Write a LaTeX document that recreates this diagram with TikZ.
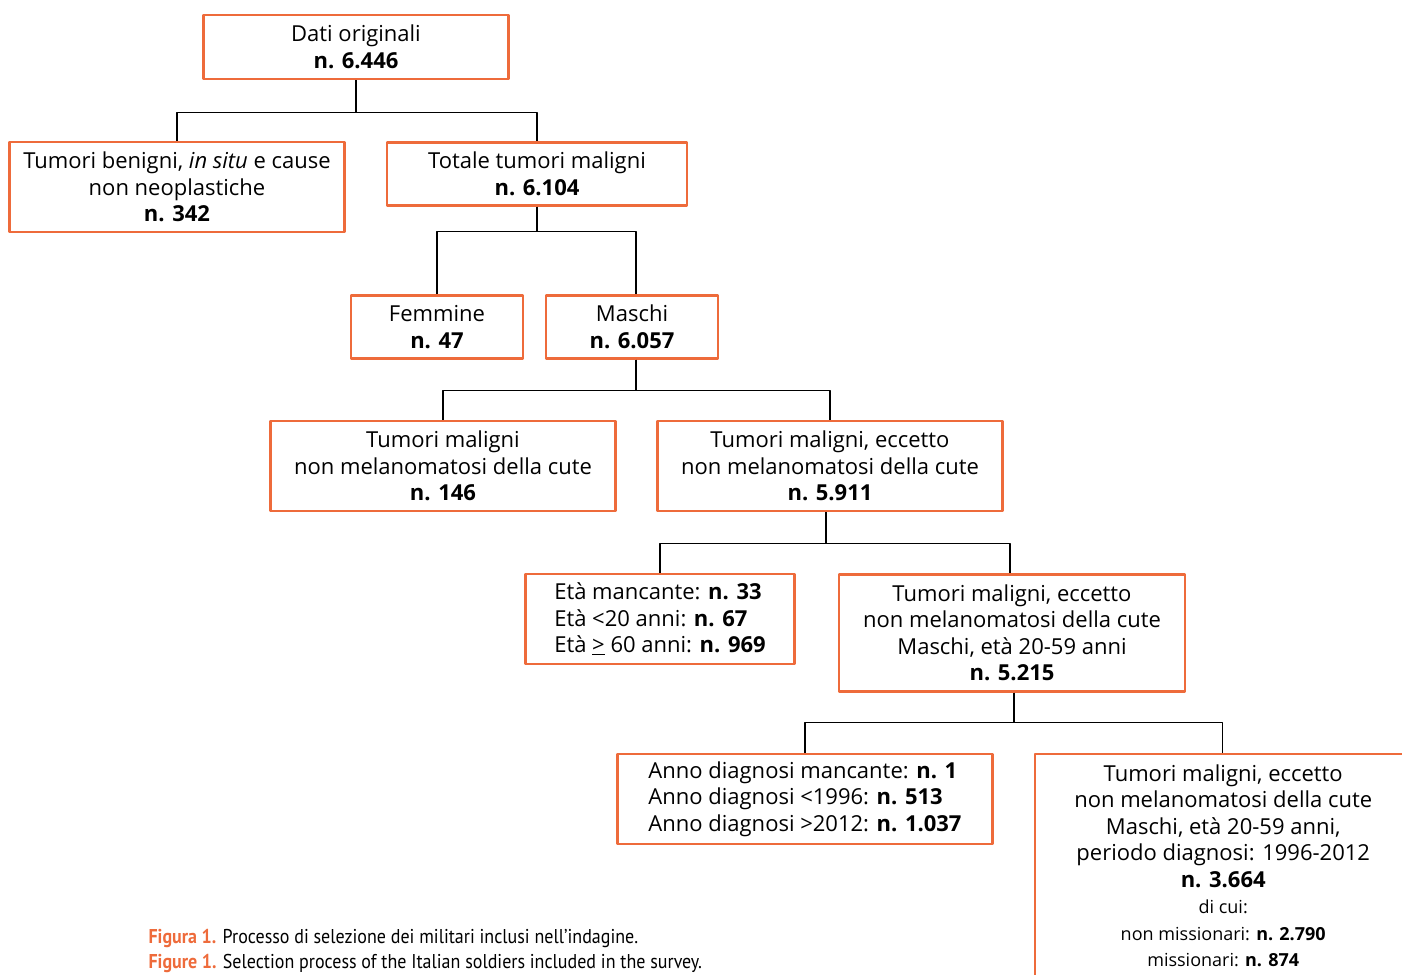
\documentclass[tikz,border=0pt]{standalone}
\usepackage{fontspec}
\setmainfont{Open Sans}
\newfontfamily\capfont[FakeStretch=0.9]{PT Sans}
\definecolor{arancio}{HTML}{EE6B3B}
\tikzset{
  box/.style={draw=arancio, line width=2.4pt, align=center, inner sep=0pt,
    font=\fontsize{22}{26.5}\selectfont},
  link/.style={draw=black, line width=1.1pt},
}
\begin{document}
\begin{tikzpicture}[x=1pt, y=-1pt, line join=round]
\useasboundingbox (0,0) rectangle (1402,974);
\clip (0,0) rectangle (1402,974);
% caselle
\node[box, minimum width=305pt, minimum height=64pt] (dati) at (356,47)
  {Dati originali\\\textbf{n. 6.446}};
\node[box, minimum width=335pt, minimum height=90pt] (benigni) at (177,187)
  {Tumori benigni, \emph{in situ} e cause\\non neoplastiche\\\textbf{n. 342}};
\node[box, minimum width=300pt, minimum height=63pt] (totale) at (537,174)
  {Totale tumori maligni\\\textbf{n. 6.104}};
\node[box, minimum width=172pt, minimum height=63pt] (femmine) at (437,327)
  {Femmine\\\textbf{n. 47}};
\node[box, minimum width=172pt, minimum height=63pt] (maschi) at (632,327)
  {Maschi\\\textbf{n. 6.057}};
\node[box, minimum width=345pt, minimum height=90pt] (cute) at (443,466)
  {Tumori maligni\\non melanomatosi della cute\\\textbf{n. 146}};
\node[box, minimum width=345pt, minimum height=90pt] (eccetto) at (830,466)
  {Tumori maligni, eccetto\\non melanomatosi della cute\\\textbf{n. 5.911}};
\node[box, align=left, minimum width=269pt, minimum height=90pt] (eta) at (660,619)
  {Età mancante: \textbf{n. 33}\\Età <20 anni: \textbf{n. 67}\\Età \underline{>} 60 anni: \textbf{n. 969}};
\node[box, minimum width=346pt, minimum height=117pt] (maschieta) at (1012,633)
  {Tumori maligni, eccetto\\non melanomatosi della cute\\Maschi, età 20-59 anni\\\textbf{n. 5.215}};
\node[box, align=left, minimum width=375pt, minimum height=90pt] (anno) at (805,799)
  {Anno diagnosi mancante: \textbf{n. 1}\\Anno diagnosi <1996: \textbf{n. 513}\\Anno diagnosi >2012: \textbf{n. 1.037}};
\node[box, anchor=north west, minimum width=376pt, minimum height=260pt] (finale)
  at (1034,753) {};
\node[align=center, font=\fontsize{22}{26.5}\selectfont, anchor=north] (finaletesto)
  at ([yshift=-8pt]finale.north)
  {Tumori maligni, eccetto\\non melanomatosi della cute\\Maschi, età 20-59 anni,\\
   periodo diagnosi: 1996-2012\\\textbf{n. 3.664}\\
   {\fontsize{18}{26.5}\selectfont di cui:}\\
   {\fontsize{18}{26.5}\selectfont non missionari: \textbf{n. 2.790}}\\
   {\fontsize{18}{26.5}\selectfont missionari: \textbf{n. 874}}};
% collegamenti
\draw[link] (dati.south) -- ++(0,32) -| (benigni.north);
\draw[link] (dati.south) -- ++(0,32) -| (totale.north);
\draw[link] (totale.south) -- ++(0,25) -| (femmine.north);
\draw[link] (totale.south) -- ++(0,25) -| ([xshift=4pt]maschi.north);
\draw[link] ([xshift=4pt]maschi.south) -- ++(0,31) -| (cute.north);
\draw[link] ([xshift=4pt]maschi.south) -- ++(0,31) -| (eccetto.north);
\draw[link] ([xshift=-4pt]eccetto.south) -- ++(0,31) -| (eta.north);
\draw[link] ([xshift=-4pt]eccetto.south) -- ++(0,31) -| ([xshift=-2pt]maschieta.north);
\draw[link] ([xshift=2pt]maschieta.south) -- ++(0,30) -| (anno.north);
\draw[link] ([xshift=2pt]maschieta.south) -- ++(0,30) -| ([xshift=-1pt]finaletesto.north |- finale.north);
% didascalia
\node[anchor=base west, align=left, font=\capfont\fontsize{20}{24.5}\selectfont] (didascalia)
  at (145,968) {\textcolor{arancio}{\textbf{Figura 1.}} Processo di selezione dei militari inclusi nell’indagine.\\
  \textcolor{arancio}{\textbf{Figure 1.}} Selection process of the Italian soldiers included in the survey.};
\end{tikzpicture}
\end{document}
